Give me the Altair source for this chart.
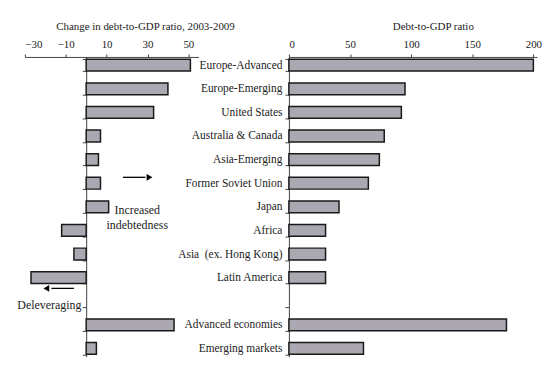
import altair as alt
import pandas as pd

regions = ["Europe-Advanced", "Europe-Emerging", "United States", "Australia & Canada",
           "Asia-Emerging", "Former Soviet Union", "Japan", "Africa",
           "Asia\u00a0\u00a0(ex. Hong Kong)", "Latin America",
           "Advanced economies", "Emerging markets"]
change = [51, 40, 33, 7, 6, 7, 11, -12, -6, -27, 43, 5]
ratio = [200, 95, 92, 78, 74, 65, 41, 30, 30, 30, 178, 61]
blank = " "
order = regions[:10] + [blank] + regions[10:]
left_ticks = [-30, -10, 10, 30, 50]
right_ticks = [0, 50, 100, 150, 200]

FONT = "Liberation Serif"
FILL = "#aba8b2"
STROKE = "#1a1a1a"
INK = "#222222"
AXC = "#444444"

df = pd.DataFrame({"region": regions, "change": change, "ratio": ratio})

yscale = alt.Scale(domain=order, paddingInner=0.5, paddingOuter=0.1)
LW = 175
lx = alt.Scale(domain=[-30, 55], nice=False, zero=False)
zero_px = 30 / 85 * LW

left_bars = alt.Chart(df).mark_bar(fill=FILL, stroke=STROKE, strokeWidth=1.5).encode(
    x=alt.X("change:Q", scale=lx,
            axis=alt.Axis(orient="top", values=left_ticks, title="Change in debt-to-GDP ratio, 2003-2009",
                          titleX=121, titleY=-31, titleBaseline="middle", titleAlign="center",
                          titleFont=FONT, titleFontSize=11, titleFontWeight="normal", titleColor=INK,
                          labelFont=FONT, labelFontSize=11, labelColor=INK, labelPadding=5,
                          tickSize=3, grid=False, domainColor=AXC, tickColor=AXC)),
    y=alt.Y("region:N", scale=yscale, sort=order,
            axis=alt.Axis(orient="left", offset=-zero_px, labels=False, title=None,
                          tickBand="extent", tickSize=4, grid=False,
                          domainColor=AXC, tickColor=AXC)),
)

ann_txt = pd.DataFrame({
    "x": [25, -18],
    "region": ["Japan", blank],
    "label": ["Increased\nindebtedness", "Deleveraging"],
    "dy": [9, 10],
})
texts = alt.Chart(ann_txt).mark_text(font=FONT, fontSize=12, color=INK, lineBreak="\n",
                                    lineHeight=15, baseline="middle", align="center").encode(
    x=alt.X("x:Q", scale=lx), y=alt.Y("region:N", scale=yscale), text="label:N",
    yOffset=alt.YOffset("dy:Q", scale=None),
)

arrows = pd.DataFrame({"x": [18, -6], "x2": [29, -17], "region": ["Former Soviet Union", blank],
                       "dy": [0, -7]})
arrow_lines = alt.Chart(arrows).mark_rule(color="black", strokeWidth=1.3).encode(
    x=alt.X("x:Q", scale=lx), x2="x2:Q", y=alt.Y("region:N", scale=yscale),
    yOffset=alt.YOffset("dy:Q", scale=None),
)
heads = pd.DataFrame({"x": [31, -19.5], "region": ["Former Soviet Union", blank],
                      "shape": ["triangle-right", "triangle-left"], "dy": [0, -7]})
arrow_heads = alt.Chart(heads).mark_point(filled=True, color="black", size=45, opacity=1).encode(
    x=alt.X("x:Q", scale=lx), y=alt.Y("region:N", scale=yscale),
    shape=alt.Shape("shape:N", scale=None),
    yOffset=alt.YOffset("dy:Q", scale=None),
)

left = alt.layer(left_bars, arrow_lines, arrow_heads, texts).properties(width=LW, height=302)

RW = 250
right = alt.Chart(df).mark_bar(fill=FILL, stroke=STROKE, strokeWidth=1.5).encode(
    x=alt.X("ratio:Q", scale=alt.Scale(domain=[0, 203], nice=False),
            axis=alt.Axis(orient="top", values=right_ticks, title="Debt-to-GDP ratio",
                          titleX=145, titleY=-31, titleBaseline="middle", titleAlign="center",
                          titleFont=FONT, titleFontSize=11, titleFontWeight="normal", titleColor=INK,
                          labelFont=FONT, labelFontSize=11, labelColor=INK, labelPadding=5,
                          tickSize=3, grid=False, domainColor=AXC, tickColor=AXC)),
    y=alt.Y("region:N", scale=yscale, sort=order,
            axis=alt.Axis(orient="left", title=None, tickBand="extent", tickSize=4, grid=False,
                          labelFont=FONT, labelFontSize=11.5, labelColor=INK, labelPadding=3,
                          labelAlign="right", domainColor=AXC, tickColor=AXC)),
).properties(width=RW, height=302)

chart = alt.hconcat(left, right, spacing=91, bounds="flush").properties(
    padding={"left": 9, "top": 11, "right": 0, "bottom": 0},
    background="white",
).configure_view(strokeWidth=0)

chart.save("out.html", embed_options={"renderer": "svg", "actions": False})
